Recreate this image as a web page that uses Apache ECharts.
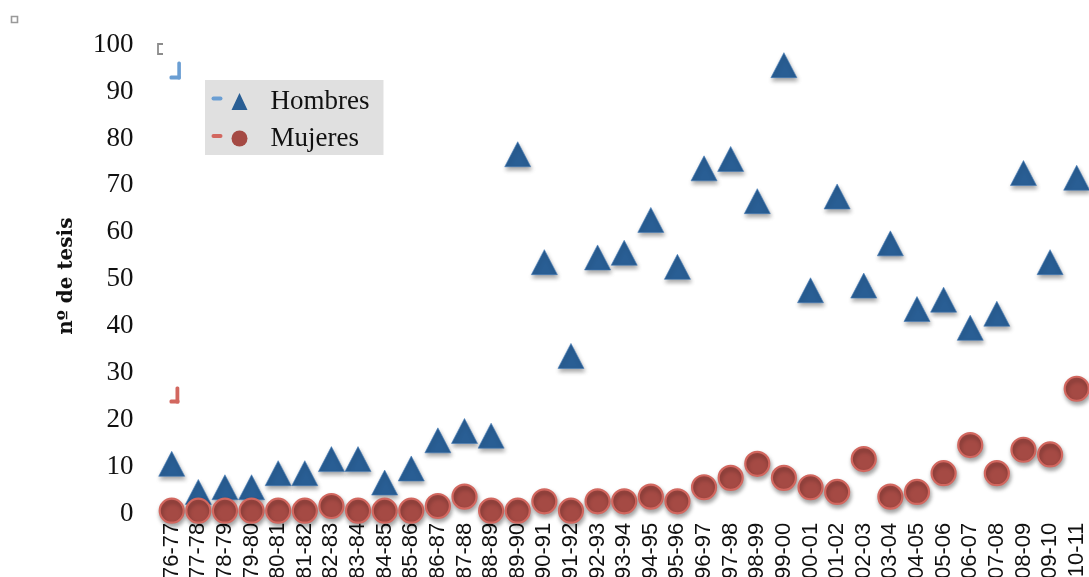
<!DOCTYPE html>
<html>
<head>
<meta charset="utf-8">
<script src="https://cdn.jsdelivr.net/npm/echarts@6/dist/echarts.min.js"></script>
<style>
  html, body { margin: 0; padding: 0; background: #ffffff; }
  #chart { width: 1089px; height: 577px; }
</style>
</head>
<body>
<div id="chart"></div>
<script>
// Academic years (curso) on the category axis
const categories = [
  '76-77', '77-78', '78-79', '79-80', '80-81', '81-82', '82-83', '83-84', '84-85', '85-86',
  '86-87', '87-88', '88-89', '89-90', '90-91', '91-92', '92-93', '93-94', '94-95', '95-96',
  '96-97', '97-98', '98-99', '99-00', '00-01', '01-02', '02-03', '03-04', '04-05', '05-06',
  '06-07', '07-08', '08-09', '09-10', '10-11'
];

// Number of theses per year, by sex
const hombres = [
  10, 4, 5, 5, 8, 8, 11, 11, 6, 9,
  15, 17, 16, 76, 53, 33, 54, 55, 62, 52,
  73, 75, 66, 95, 47, 67, 48, 57, 43, 45,
  39, 42, 72, 53, 71
];
const mujeres = [
  0, 0, 0, 0, 0, 0, 1, 0, 0, 0,
  1, 3, 0, 0, 2, 0, 2, 2, 3, 2,
  5, 7, 10, 7, 5, 4, 11, 3, 4, 8,
  14, 8, 13, 12, 26
];

const yTicks = [0, 10, 20, 30, 40, 50, 60, 70, 80, 90, 100];

const BLUE = '#295E94';
const BLUE_LIGHT = '#6A9ED3';
const RED = '#A54A44';
const RED_LIGHT = '#D2675F';

const chart = echarts.init(document.getElementById('chart'), null, { renderer: 'canvas' });

const option = {
  backgroundColor: '#ffffff',
  animation: false,
  grid: {
    left: 158.4, top: 41.7, width: 931.6, height: 469,
    containLabel: false,
    outerBoundsMode: 'none'
  },
  xAxis: {
    type: 'category',
    data: categories,
    boundaryGap: true,
    axisLine: { show: false },
    axisTick: { show: false },
    splitLine: { show: false },
    axisLabel: {
      rotate: 90,
      interval: 0,
      margin: 12,
      color: '#111111',
      fontFamily: 'Liberation Sans',
      fontSize: 22
    }
  },
  yAxis: {
    type: 'value',
    min: yTicks[0],
    max: yTicks[yTicks.length - 1],
    interval: 10,
    axisLine: { show: false },
    axisTick: { show: false },
    splitLine: { show: false },
    axisLabel: {
      margin: 25,
      formatter: '{v|{value}}',
      rich: {
        v: {
          color: '#111111',
          fontFamily: 'Liberation Serif',
          fontSize: 27,
          padding: [6, 0, 0, 0]
        }
      }
    },
    name: 'nº de tesis',
    nameLocation: 'middle',
    nameRotate: 90,
    nameGap: 82,
    nameTextStyle: {
      color: '#111111',
      fontFamily: 'DejaVu Serif',
      fontWeight: 'bold',
      fontSize: 20
    }
  },
  legend: {
    orient: 'vertical',
    left: 205,
    top: 80,
    padding: [8, 14, 3, 26.5],
    itemGap: 10,
    itemWidth: 16,
    itemHeight: 17,
    backgroundColor: '#E0E0E0',
    borderRadius: 0,
    textStyle: {
      color: '#111111',
      fontFamily: 'Liberation Serif',
      fontSize: 27,
      padding: [0, 0, 0, 18]
    },
    itemStyle: { opacity: 1, shadowBlur: 0, shadowOffsetX: 0, shadowOffsetY: 0, borderWidth: 0 },
    data: [
      { name: 'Hombres', icon: 'triangle' },
      { name: 'Mujeres', icon: 'circle' }
    ]
  },
  graphic: [
    // legend line stubs
    { type: 'rect', left: 211.5, top: 96.5, shape: { width: 11, height: 4, r: 2 }, style: { fill: BLUE_LIGHT }, z: 100 },
    { type: 'rect', left: 211.5, top: 134, shape: { width: 11, height: 4, r: 2 }, style: { fill: RED_LIGHT }, z: 100 },
    // small corner marks
    { type: 'rect', left: 9, top: 14, shape: { width: 6, height: 6 }, style: { fill: 'none', stroke: '#9a9a9a', lineWidth: 1.6 } },
    { type: 'polyline', shape: { points: [[163, 44], [158, 44], [158, 54], [163, 54]] }, style: { fill: 'none', stroke: '#8c8c8c', lineWidth: 1.8 } },
    { type: 'rect', left: 177.3, top: 61.5, shape: { width: 3.6, height: 18, r: 1.5 }, style: { fill: BLUE_LIGHT } },
    { type: 'rect', left: 169.5, top: 75.5, shape: { width: 11, height: 4, r: 1.5 }, style: { fill: BLUE_LIGHT } },
    { type: 'rect', left: 175.5, top: 386.5, shape: { width: 3.8, height: 17, r: 1.5 }, style: { fill: RED_LIGHT } },
    { type: 'rect', left: 169.5, top: 399.5, shape: { width: 10, height: 4, r: 1.5 }, style: { fill: RED_LIGHT } }
  ],
  series: [
    {
      name: 'Hombres',
      type: 'scatter',
      symbol: 'triangle',
      symbolSize: [26, 25],
      data: hombres,
      z: 2,
      clip: false,
      itemStyle: {
        opacity: 1,
        color: BLUE,
        borderColor: '#4A80BA',
        borderWidth: 0.6,
        shadowBlur: 4,
        shadowOffsetX: 1,
        shadowOffsetY: 3,
        shadowColor: 'rgba(0,0,0,0.35)'
      }
    },
    {
      name: 'Mujeres',
      type: 'scatter',
      symbol: 'circle',
      symbolSize: 24,
      data: mujeres,
      z: 3,
      clip: false,
      itemStyle: {
        opacity: 1,
        color: RED,
        borderColor: RED_LIGHT,
        borderWidth: 2.2,
        shadowBlur: 4,
        shadowOffsetX: 1,
        shadowOffsetY: 3,
        shadowColor: 'rgba(0,0,0,0.35)'
      }
    }
  ]
};

chart.setOption(option);
</script>
</body>
</html>
